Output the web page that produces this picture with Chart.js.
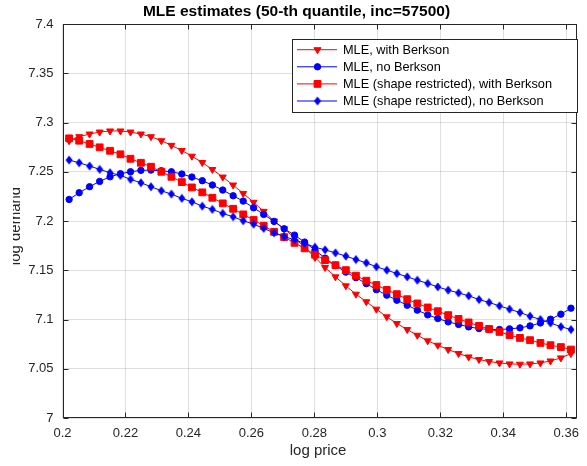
<!DOCTYPE html>
<html>
<head>
<meta charset="utf-8">
<script src="https://cdn.jsdelivr.net/npm/chart.js@4.4.1/dist/chart.umd.min.js"></script>
<style>
  body { margin: 0; background: #fff; }
  #wrap { width: 587px; height: 466px; }
</style>
</head>
<body>
<div id="wrap"><canvas id="mleChart" width="587" height="466"></canvas></div>
<script>
// x grid (log price)
const logPrice = [
  0.2021, 0.2053, 0.2086, 0.2118, 0.2151, 0.2184, 0.2216, 0.2249, 0.2281, 0.2314,
  0.2346, 0.2379, 0.2411, 0.2444, 0.2476, 0.2509, 0.2542, 0.2574, 0.2607, 0.2639,
  0.2672, 0.2704, 0.2737, 0.2769, 0.2802, 0.2834, 0.2867, 0.2900, 0.2932, 0.2965,
  0.2997, 0.3030, 0.3062, 0.3095, 0.3127, 0.3160, 0.3192, 0.3225, 0.3258, 0.3290,
  0.3323, 0.3355, 0.3388, 0.3420, 0.3453, 0.3485, 0.3518, 0.3550, 0.3583, 0.3615
];

const mleBerkson = [
  7.2815, 7.2856, 7.2883, 7.2903, 7.2914, 7.2914, 7.2903, 7.2883, 7.2856, 7.2815,
  7.2768, 7.2716, 7.2658, 7.2594, 7.2523, 7.2446, 7.2365, 7.2280, 7.2190, 7.2098,
  7.1999, 7.1921, 7.1829, 7.1732, 7.1630, 7.1528, 7.1433, 7.1342, 7.1257, 7.1180,
  7.1105, 7.1027, 7.0959, 7.0898, 7.0840, 7.0783, 7.0739, 7.0695, 7.0655, 7.0620,
  7.0594, 7.0573, 7.0559, 7.0549, 7.0546, 7.0549, 7.0559, 7.0579, 7.0610, 7.0654
];

const mleNoBerkson = [
  7.2219, 7.2287, 7.2348, 7.2402, 7.2449, 7.2480, 7.2500, 7.2514, 7.2517, 7.2510,
  7.2500, 7.2477, 7.2446, 7.2409, 7.2365, 7.2314, 7.2256, 7.2202, 7.2134, 7.2067,
  7.1996, 7.1921, 7.1857, 7.1786, 7.1704, 7.1623, 7.1547, 7.1481, 7.1425, 7.1364,
  7.1303, 7.1247, 7.1196, 7.1145, 7.1095, 7.1047, 7.1010, 7.0976, 7.0950, 7.0925,
  7.0908, 7.0898, 7.0898, 7.0905, 7.0915, 7.0935, 7.0965, 7.1003, 7.1054, 7.1115
];

const shapeBerkson = [
  7.2839, 7.2815, 7.2782, 7.2748, 7.2713, 7.2677, 7.2632, 7.2591, 7.2551, 7.2500,
  7.2449, 7.2395, 7.2341, 7.2291, 7.2236, 7.2179, 7.2124, 7.2067, 7.2010, 7.1952,
  7.1890, 7.1836, 7.1778, 7.1722, 7.1658, 7.1603, 7.1552, 7.1501, 7.1445, 7.1394,
  7.1350, 7.1300, 7.1257, 7.1206, 7.1163, 7.1122, 7.1084, 7.1044, 7.1006, 7.0970,
  7.0935, 7.0904, 7.0874, 7.0842, 7.0813, 7.0790, 7.0762, 7.0739, 7.0720, 7.0695
];

const shapeNoBerkson = [
  7.2619, 7.2591, 7.2558, 7.2524, 7.2490, 7.2463, 7.2423, 7.2388, 7.2348, 7.2307,
  7.2273, 7.2230, 7.2195, 7.2151, 7.2118, 7.2077, 7.2043, 7.2002, 7.1968, 7.1925,
  7.1880, 7.1842, 7.1809, 7.1774, 7.1734, 7.1707, 7.1677, 7.1643, 7.1609, 7.1575,
  7.1535, 7.1501, 7.1467, 7.1433, 7.1399, 7.1366, 7.1331, 7.1298, 7.1270, 7.1240,
  7.1203, 7.1173, 7.1138, 7.1105, 7.1071, 7.1034, 7.1000, 7.0965, 7.0927, 7.0898
];

const seriesNames = [
  'MLE, with Berkson',
  'MLE, no Berkson',
  'MLE (shape restricted), with Berkson',
  'MLE (shape restricted), no Berkson'
];

const xTicks = [0.2, 0.22, 0.24, 0.26, 0.28, 0.3, 0.32, 0.34, 0.36];
const yTicks = [7, 7.05, 7.1, 7.15, 7.2, 7.25, 7.3, 7.35, 7.4];

const titleText = 'MLE estimates (50-th quantile, inc=57500)';
const xLabel = 'log price';
const yLabel = 'log demand';

const RED = '#ff0000';
const BLUE = '#0000ff';
const axisColor = '#262626';
const gridColor = 'rgba(38,38,38,0.15)';
const fontFamily = '"Liberation Sans", Arial, Helvetica, sans-serif';

// matlab style diamond is taller than wide
function diamondMarker(color) {
  var c = document.createElement('canvas');
  c.width = 8;
  c.height = 10;
  var g = c.getContext('2d');
  g.fillStyle = color;
  g.beginPath();
  g.moveTo(4, 0.5);
  g.lineTo(7.5, 5);
  g.lineTo(4, 9.5);
  g.lineTo(0.5, 5);
  g.closePath();
  g.fill();
  return c;
}

function toPoints(ys) {
  return ys.map(function(y, i) { return { x: logPrice[i], y: y }; });
}

function makeSet(idx, ys, color, style, radius, rotation) {
  return {
    label: seriesNames[idx],
    data: toPoints(ys),
    borderColor: color,
    backgroundColor: color,
    borderWidth: 1,
    pointStyle: style,
    pointRadius: radius,
    pointRotation: rotation,
    pointBorderWidth: 1,
    pointBackgroundColor: color,
    pointBorderColor: color,
    tension: 0,
    order: 4 - idx
  };
}

var datasets = [
  makeSet(0, mleBerkson, RED, 'triangle', 4, 180),
  makeSet(1, mleNoBerkson, BLUE, 'circle', 3.2, 0),
  makeSet(2, shapeBerkson, RED, 'rect', 4.8, 0),
  makeSet(3, shapeNoBerkson, BLUE, diamondMarker(BLUE), 4, 0)
];

// axes box with inward ticks on all four sides
var boxPlugin = {
  id: 'matlabBox',
  beforeDatasetsDraw: function(chart) {
    var ctx = chart.ctx;
    var a = chart.chartArea;
    var l = Math.round(a.left) + 0.5, r = Math.round(a.right) - 0.5;
    var t = Math.round(a.top) + 0.5, b = Math.round(a.bottom) - 0.5;
    ctx.save();
    ctx.strokeStyle = axisColor;
    ctx.lineWidth = 1;
    ctx.strokeRect(l, t, r - l, b - t);
    ctx.beginPath();
    xTicks.forEach(function(v) {
      var px = Math.round(chart.scales.x.getPixelForValue(v)) + 0.5;
      ctx.moveTo(px, b); ctx.lineTo(px, b - 5);
      ctx.moveTo(px, t); ctx.lineTo(px, t + 5);
    });
    yTicks.forEach(function(v) {
      var py = Math.round(chart.scales.y.getPixelForValue(v)) + 0.5;
      ctx.moveTo(l, py); ctx.lineTo(l + 5, py);
      ctx.moveTo(r, py); ctx.lineTo(r - 5, py);
    });
    ctx.stroke();
    ctx.restore();
  }
};

var textPlugin = {
  id: 'labels',
  afterDraw: function(chart) {
    var ctx = chart.ctx;
    var a = chart.chartArea;
    var cx = (a.left + a.right) / 2;
    ctx.save();
    ctx.fillStyle = '#000';
    ctx.textAlign = 'center';
    ctx.textBaseline = 'middle';
    ctx.font = 'bold 15.5px ' + fontFamily;
    ctx.fillText(titleText, 296.5, 12);

    ctx.fillStyle = axisColor;
    ctx.font = '15px ' + fontFamily;
    ctx.fillText(xLabel, cx - 1.5, 451);

    // y label is cut off on its left side in the original
    ctx.beginPath();
    ctx.rect(13, 0, 60, 466);
    ctx.clip();
    ctx.translate(20, (a.top + a.bottom) / 2 + 5);
    ctx.rotate(-Math.PI / 2);
    ctx.textBaseline = 'alphabetic';
    ctx.fillText(yLabel, 0, 0);
    ctx.restore();
  }
};

var legendPlugin = {
  id: 'boxLegend',
  afterDraw: function(chart) {
    var ctx = chart.ctx;
    var x0 = 292.5, y0 = 39.5, w = 285, h = 73;
    ctx.save();
    ctx.fillStyle = '#fff';
    ctx.fillRect(x0, y0, w, h);
    ctx.strokeStyle = axisColor;
    ctx.lineWidth = 1;
    ctx.strokeRect(x0, y0, w, h);
    ctx.font = '12.75px ' + fontFamily;
    ctx.textAlign = 'left';
    ctx.textBaseline = 'middle';
    chart.data.datasets.forEach(function(ds, i) {
      var y = 49.7 + i * 17.1;
      ctx.strokeStyle = ds.borderColor;
      ctx.fillStyle = ds.borderColor;
      ctx.lineWidth = 1;
      ctx.beginPath();
      ctx.moveTo(297, y);
      ctx.lineTo(337, y);
      ctx.stroke();
      Chart.helpers.drawPoint(ctx, {
        pointStyle: ds.pointStyle,
        radius: ds.pointRadius,
        rotation: ds.pointRotation,
        borderWidth: 1
      }, 317.5, y);
      ctx.fillStyle = '#000';
      ctx.fillText(ds.label, 343, y + 0.5);
    });
    ctx.restore();
  }
};

var ctx = document.getElementById('mleChart').getContext('2d');
var chart = new Chart(ctx, {
  type: 'line',
  data: { datasets: datasets },
  options: {
    responsive: false,
    animation: false,
    devicePixelRatio: 1,
    layout: { padding: { top: 24, right: 1.5, left: 0, bottom: 0 } },
    plugins: {
      legend: { display: false },
      title: { display: false },
      tooltip: { enabled: false }
    },
    scales: {
      x: {
        type: 'linear',
        min: 0.2,
        max: 0.3633,
        afterBuildTicks: function(s) { s.ticks = xTicks.map(function(v) { return { value: v }; }); },
        afterFit: function(s) { s.height = 48; },
        grid: { color: gridColor, drawTicks: false },
        border: { display: false },
        ticks: {
          color: axisColor,
          padding: 8,
          maxRotation: 0,
          font: { family: fontFamily, size: 13 },
          callback: function(v) { return String(v); }
        }
      },
      y: {
        type: 'linear',
        min: 7,
        max: 7.4,
        afterBuildTicks: function(s) { s.ticks = yTicks.map(function(v) { return { value: v }; }); },
        afterFit: function(s) { s.width = 62.5; },
        grid: { color: gridColor, drawTicks: false },
        border: { display: false },
        ticks: {
          color: axisColor,
          padding: 9,
          font: { family: fontFamily, size: 13 },
          callback: function(v) { return String(v); }
        }
      }
    }
  },
  plugins: [boxPlugin, textPlugin, legendPlugin]
});
</script>
</body>
</html>
